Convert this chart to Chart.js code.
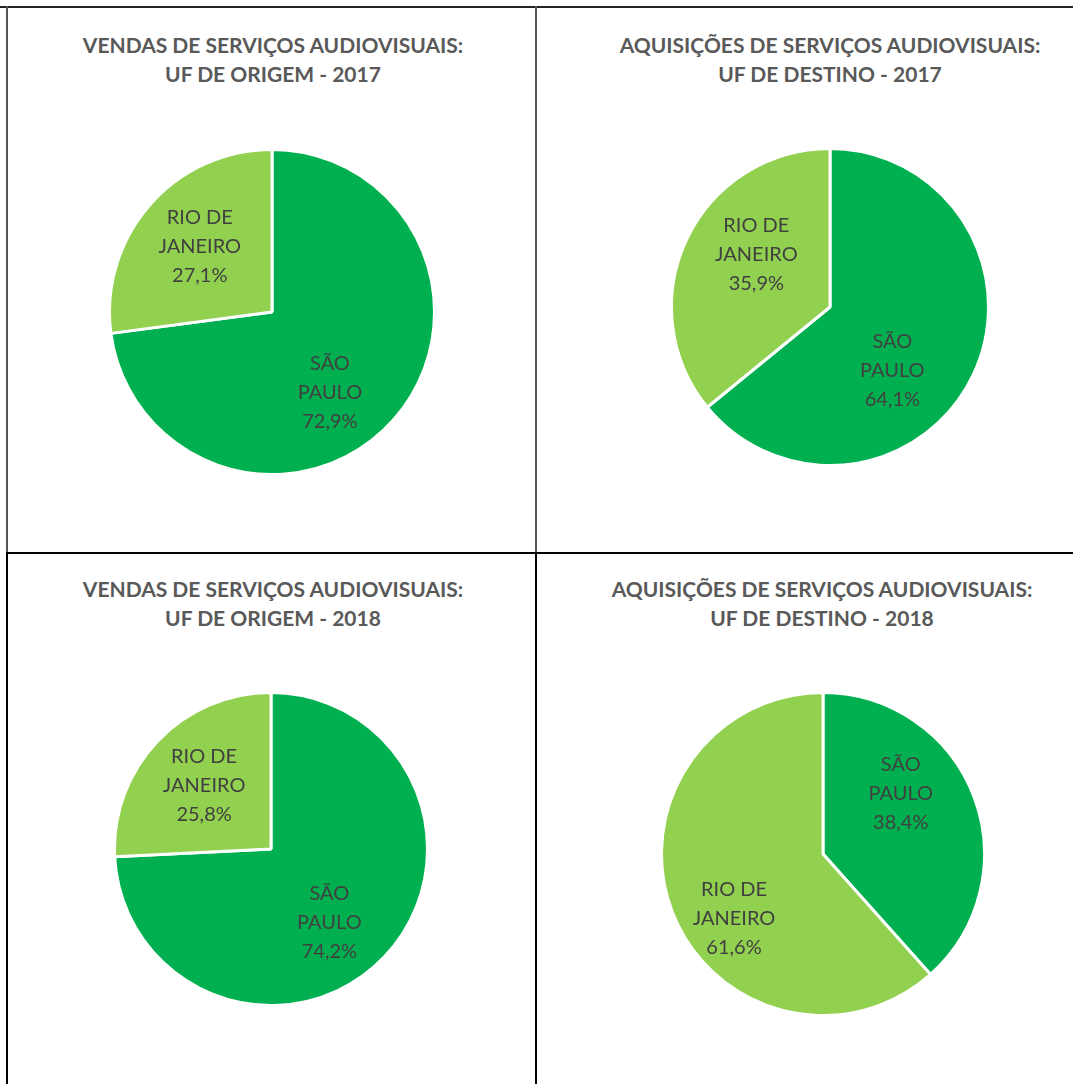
<!DOCTYPE html>
<html>
<head>
<meta charset="utf-8">
<script src="https://cdn.jsdelivr.net/npm/chart.js@4"></script>
<style>
  html, body { margin: 0; padding: 0; background: #fff; }
  #page { position: relative; width: 1073px; height: 1084px; overflow: hidden; }
  .title {
    position: absolute; width: 529px; text-align: center;
    font: bold 21px Lato, sans-serif; color: #595959; line-height: 29px;
  }
  .pie { position: absolute; }
  .line { position: absolute; background: #000; }
</style>
</head>
<body>
<div id="page">
  <div class="line" style="left:0;top:6px;width:1073px;height:2px;background:#222"></div>
  <div class="line" style="left:6px;top:6px;width:2px;height:547px;background:#555"></div>
  <div class="line" style="left:535px;top:6px;width:2px;height:547px;background:#555"></div>
  <div class="line" style="left:6px;top:552px;width:1067px;height:2px"></div>
  <div class="line" style="left:6px;top:552px;width:2px;height:532px"></div>
  <div class="line" style="left:535px;top:552px;width:2px;height:532px"></div>
</div>
<script>
  // ===== dados =====
  const categories = ['SÃO PAULO', 'RIO DE JANEIRO'];
  const labelLines = [['SÃO', 'PAULO'], ['RIO DE', 'JANEIRO']];
  const colors = ['#00B050', '#92D050'];

  const titles = [
    ['VENDAS DE SERVIÇOS AUDIOVISUAIS:', 'UF DE ORIGEM - 2017'],
    ['AQUISIÇÕES DE SERVIÇOS AUDIOVISUAIS:', 'UF DE DESTINO - 2017'],
    ['VENDAS DE SERVIÇOS AUDIOVISUAIS:', 'UF DE ORIGEM - 2018'],
    ['AQUISIÇÕES DE SERVIÇOS AUDIOVISUAIS:', 'UF DE DESTINO - 2018']
  ];

  const vendas2017 = [72.9, 27.1];
  const aquisicoes2017 = [64.1, 35.9];
  const vendas2018 = [74.2, 25.8];
  const aquisicoes2018 = [38.4, 61.6];

  // ===== layout =====
  // nudge: [giro em graus a partir do meio da fatia, fração do raio] por fatia
  const panels = [
    { data: vendas2017,     titleX: 273, titleTop: 30,  cx: 272, cy: 312, r: 161, nudge: [[13, 0.61], [1, 0.60]] },
    { data: aquisicoes2017, titleX: 830, titleTop: 30,  cx: 830, cy: 307, r: 157, nudge: [[20, 0.56], [10, 0.57]] },
    { data: vendas2018,     titleX: 273, titleTop: 574, cx: 271, cy: 849, r: 155, nudge: [[8, 0.60], [0, 0.59]] },
    { data: aquisicoes2018, titleX: 822, titleTop: 574, cx: 823, cy: 854, r: 160, nudge: [[-17, 0.61], [-15, 0.68]] }
  ];

  const fmt = v => v.toFixed(1).replace('.', ',') + '%';

  // rótulos dentro das fatias
  const sliceLabels = {
    id: 'sliceLabels',
    afterDatasetsDraw(chart, args, opts) {
      const ctx = chart.ctx;
      const meta = chart.getDatasetMeta(0);
      const values = chart.data.datasets[0].data;
      ctx.save();
      ctx.font = '20px Lato, sans-serif';
      ctx.fillStyle = '#404040';
      ctx.textAlign = 'center';
      ctx.textBaseline = 'middle';
      meta.data.forEach((arc, i) => {
        const { x, y, startAngle, endAngle, outerRadius } = arc.getProps(['x', 'y', 'startAngle', 'endAngle', 'outerRadius'], true);
        const [turn, ratio] = opts.nudge[i];
        const mid = (startAngle + endAngle) / 2 + turn * Math.PI / 180;
        const d = outerRadius * ratio;
        const lx = x + Math.cos(mid) * d;
        const ly = y + Math.sin(mid) * d;
        const lines = labelLines[i].concat([fmt(values[i])]);
        const lh = 29;
        lines.forEach((t, k) => {
          ctx.fillText(t, lx, ly + (k - (lines.length - 1) / 2) * lh);
        });
      });
      ctx.restore();
    }
  };

  const page = document.getElementById('page');

  panels.forEach((p, n) => {
    const t = document.createElement('div');
    t.className = 'title';
    t.style.left = (p.titleX - 264.5) + 'px';
    t.style.top = p.titleTop + 'px';
    t.innerHTML = titles[n].join('<br>');
    page.appendChild(t);

    const size = 2 * p.r + 6;
    const box = document.createElement('div');
    box.className = 'pie';
    box.style.left = (p.cx - size / 2) + 'px';
    box.style.top = (p.cy - size / 2) + 'px';
    box.style.width = size + 'px';
    box.style.height = size + 'px';
    const cv = document.createElement('canvas');
    box.appendChild(cv);
    page.appendChild(box);

    new Chart(cv.getContext('2d'), {
      type: 'pie',
      data: {
        labels: categories,
        datasets: [{
          data: p.data,
          backgroundColor: colors,
          borderColor: '#ffffff',
          borderWidth: 3
        }]
      },
      options: {
        responsive: true,
        maintainAspectRatio: false,
        animation: false,
        layout: { padding: 0 },
        plugins: {
          legend: { display: false },
          tooltip: { enabled: false },
          sliceLabels: { nudge: p.nudge }
        }
      },
      plugins: [sliceLabels]
    });
  });
</script>
</body>
</html>
